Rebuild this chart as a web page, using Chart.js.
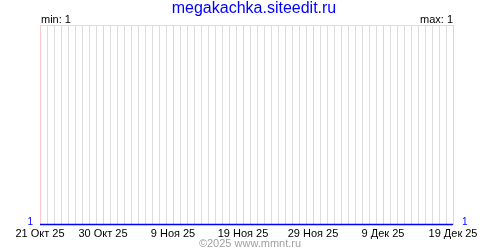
<!DOCTYPE html>
<html lang="ru">
<head>
<meta charset="UTF-8">
<title>megakachka.siteedit.ru</title>
<script src="https://cdn.jsdelivr.net/npm/chart.js"></script>
<style>
    html, body { margin: 0; padding: 0; background: #fff; }
    #wrap { width: 500px; height: 250px; }
</style>
</head>
<body>
<div id="wrap"><canvas id="grafico"></canvas></div>
<script>
    // one label per day, 21 Oct 25 .. 19 Dec 25
    const dias = [
        '21 Окт 25', '22 Окт 25', '23 Окт 25', '24 Окт 25', '25 Окт 25', '26 Окт 25', '27 Окт 25', '28 Окт 25', '29 Окт 25', '30 Окт 25', '31 Окт 25',
        '1 Ноя 25', '2 Ноя 25', '3 Ноя 25', '4 Ноя 25', '5 Ноя 25', '6 Ноя 25', '7 Ноя 25', '8 Ноя 25', '9 Ноя 25', '10 Ноя 25',
        '11 Ноя 25', '12 Ноя 25', '13 Ноя 25', '14 Ноя 25', '15 Ноя 25', '16 Ноя 25', '17 Ноя 25', '18 Ноя 25', '19 Ноя 25', '20 Ноя 25',
        '21 Ноя 25', '22 Ноя 25', '23 Ноя 25', '24 Ноя 25', '25 Ноя 25', '26 Ноя 25', '27 Ноя 25', '28 Ноя 25', '29 Ноя 25', '30 Ноя 25',
        '1 Дек 25', '2 Дек 25', '3 Дек 25', '4 Дек 25', '5 Дек 25', '6 Дек 25', '7 Дек 25', '8 Дек 25', '9 Дек 25', '10 Дек 25',
        '11 Дек 25', '12 Дек 25', '13 Дек 25', '14 Дек 25', '15 Дек 25', '16 Дек 25', '17 Дек 25', '18 Дек 25', '19 Дек 25'
    ];
    const visitas = [
        1, 1, 1, 1, 1, 1, 1, 1, 1, 1, 1, 1, 1, 1, 1, 1, 1, 1, 1, 1,
        1, 1, 1, 1, 1, 1, 1, 1, 1, 1, 1, 1, 1, 1, 1, 1, 1, 1, 1, 1,
        1, 1, 1, 1, 1, 1, 1, 1, 1, 1, 1, 1, 1, 1, 1, 1, 1, 1, 1, 1
    ];
    // labels shown under the axis (pink grid lines)
    const rotulos = ['21 Окт 25', '30 Окт 25', '9 Ноя 25', '19 Ноя 25', '29 Ноя 25', '9 Дек 25', '19 Дек 25'];
    const titulo = 'megakachka.siteedit.ru';
    const rodape = '©2025 www.mmnt.ru';

    const minV = Math.min(...visitas);
    const maxV = Math.max(...visitas);
    const fonte = '"Liberation Sans", Arial, sans-serif';

    const textos = {
        id: 'textos',
        afterDraw(chart) {
            const ctx = chart.ctx;
            const a = chart.chartArea;
            ctx.save();
            ctx.textBaseline = 'alphabetic';

            ctx.font = '16px ' + fonte;
            ctx.fillStyle = '#0000ff';
            ctx.textAlign = 'center';
            ctx.fillText(titulo, 254, 13);

            ctx.font = '11px ' + fonte;
            ctx.fillStyle = '#000';
            ctx.textAlign = 'left';
            ctx.fillText('min: ' + minV, a.left + 1, 23);
            ctx.textAlign = 'right';
            ctx.fillText('max: ' + maxV, a.right, 23);

            // value at the ends of the line
            ctx.font = '10px ' + fonte;
            ctx.fillStyle = '#0000ff';
            ctx.textAlign = 'right';
            ctx.fillText(String(visitas[0]), a.left - 7, 225);
            ctx.textAlign = 'left';
            ctx.fillText(String(visitas[visitas.length - 1]), a.right + 9, 225);

            ctx.font = '11px ' + fonte;
            ctx.fillStyle = '#a0a0a0';
            ctx.textAlign = 'center';
            ctx.fillText(rodape, 250, 247);
            ctx.restore();
        }
    };

    new Chart(document.getElementById('grafico'), {
        type: 'line',
        data: {
            labels: dias,
            datasets: [{
                data: visitas,
                borderColor: '#0000ff',
                borderWidth: 1.5,
                pointRadius: 0,
                tension: 0,
                clip: false
            }]
        },
        options: {
            responsive: true,
            maintainAspectRatio: false,
            animation: false,
            events: [],
            layout: { padding: { left: 40, right: 47, top: 25, bottom: 0 } },
            plugins: { legend: { display: false }, tooltip: { enabled: false } },
            scales: {
                x: {
                    offset: false,
                    border: { display: false },
                    grid: {
                        tickLength: 0,
                        lineWidth: 1,
                        color: (c) => rotulos.includes(dias[c.index]) ? '#ffc8c8' : '#dddddd'
                    },
                    ticks: {
                        autoSkip: false,
                        maxRotation: 0,
                        padding: 3,
                        color: '#000',
                        font: { family: fonte, size: 11 },
                        callback: (v, i) => rotulos.includes(dias[i]) ? dias[i] : ''
                    },
                    afterFit: (s) => { s.height = 25.5; }
                },
                y: {
                    min: minV,
                    max: minV + 1,
                    border: { display: false },
                    grid: { color: '#dddddd', drawTicks: false },
                    ticks: { display: false, stepSize: 1 },
                    afterFit: (s) => { s.width = 0; }
                }
            }
        },
        plugins: [textos]
    });
</script>
</body>
</html>
